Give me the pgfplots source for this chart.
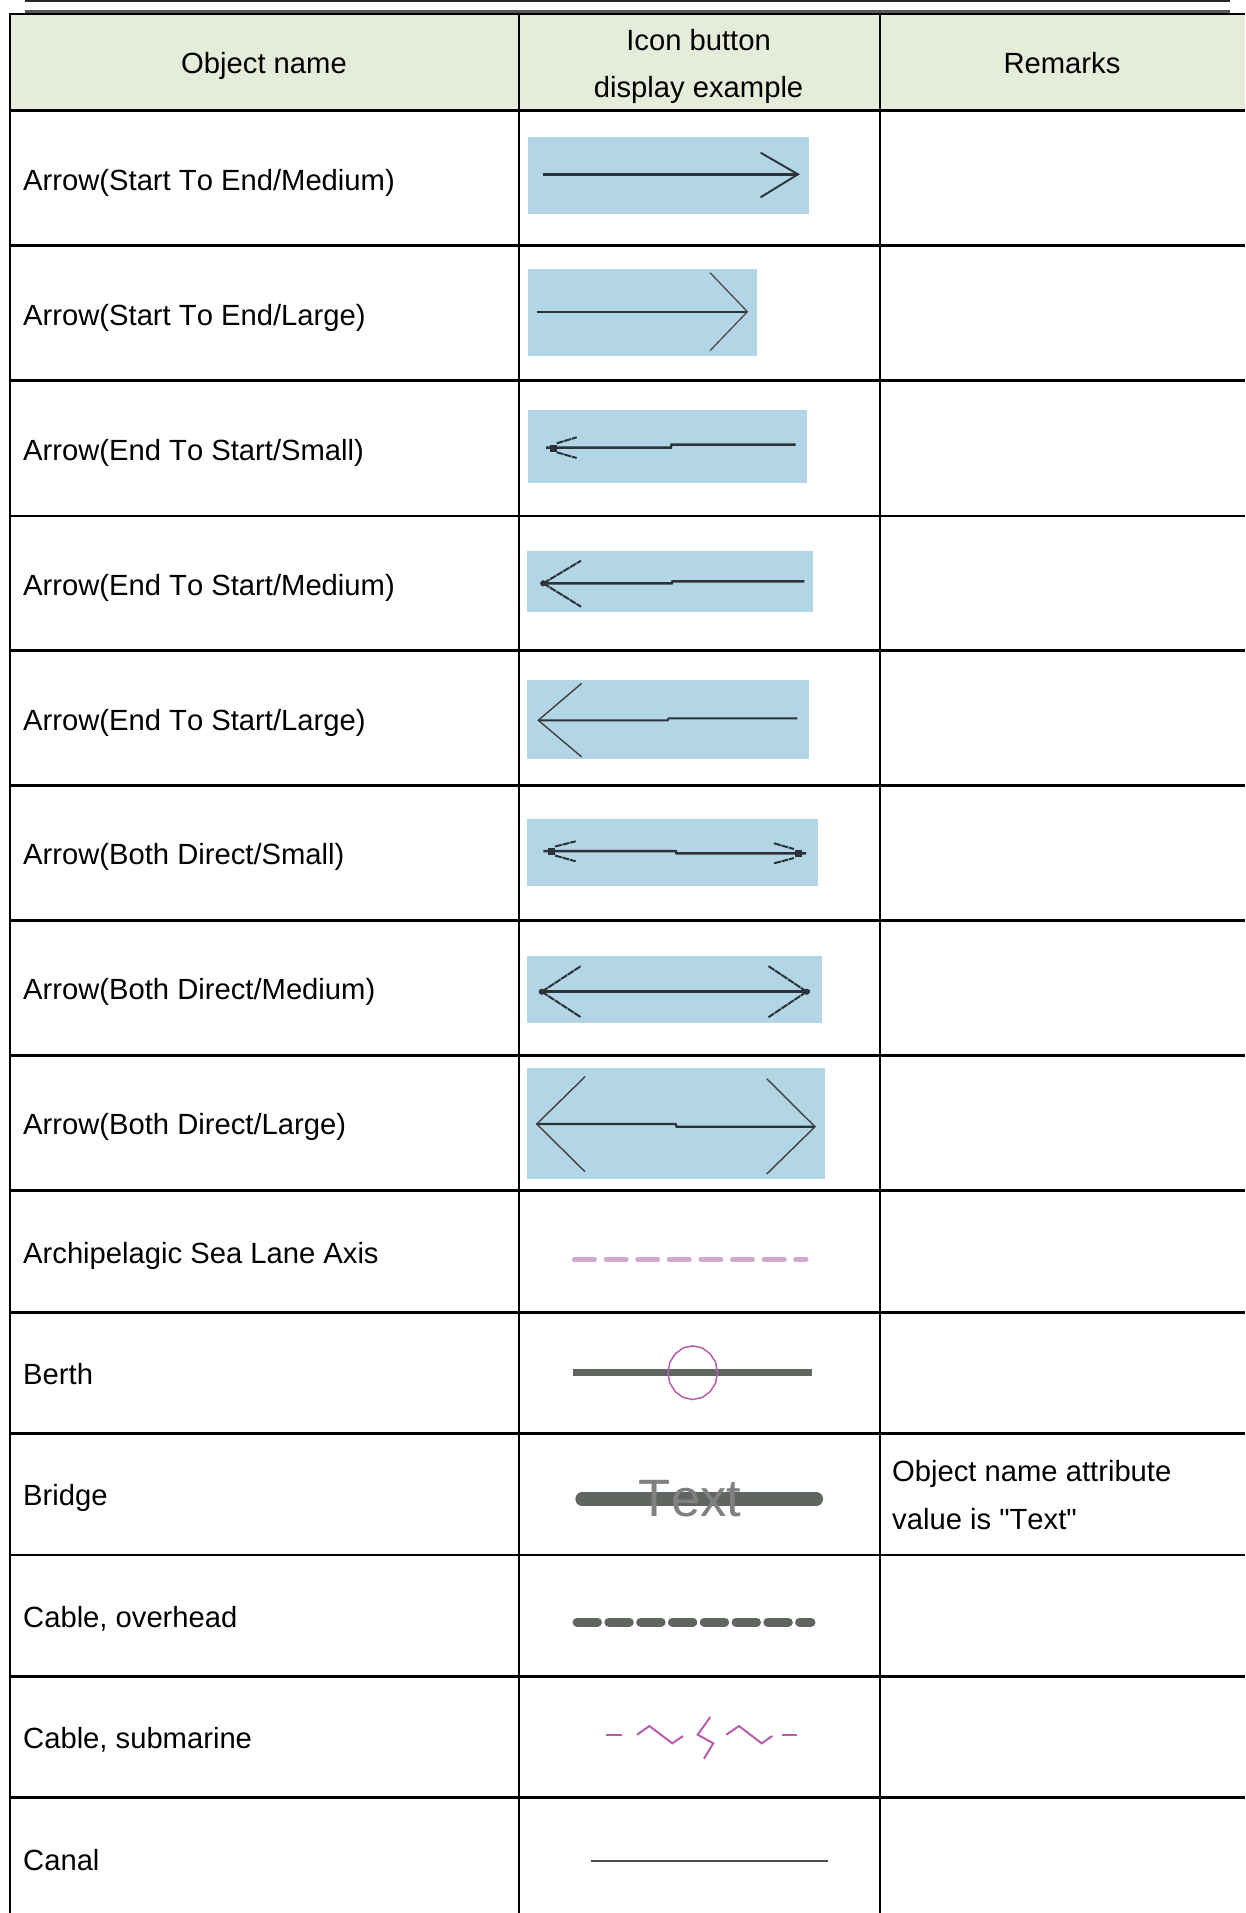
\documentclass[border=0pt]{standalone}
\usepackage{fontspec}
\setmainfont[Kerning=Off,Ligatures=TeXOff]{Liberation Sans}
\usepackage{pgfplots}
\pgfplotsset{compat=1.18}
\definecolor{hdr}{HTML}{E6ECDA}
\definecolor{sky}{HTML}{B3D6E7}
\definecolor{ink}{HTML}{2B3338}
\definecolor{slate}{HTML}{5F6660}
\definecolor{lilac}{HTML}{CFA8D0}
\definecolor{magn}{HTML}{B85CB0}
\newcommand{\Seg}[2][]{\addplot[forget plot,#1] coordinates {#2};}
\newcommand{\SkyBox}[4]{\addplot[forget plot,fill=sky,draw=none] coordinates {(#1,#2)(#3,#2)(#3,#4)(#1,#4)} --cycle;}
\newcommand{\Txt}[3]{\node[anchor=base west,inner sep=0pt,font=\fontsize{29.2}{29.2}\selectfont] at (axis cs:#1,#2) {#3};}
\newcommand{\Ctr}[3]{\node[anchor=base,inner sep=0pt,font=\fontsize{29.2}{29.2}\selectfont] at (axis cs:#1,#2) {#3};}
\tikzset{
 tbl/.style={black,line width=2.6pt},
 arw/.style={ink,line width=2.5pt},
 arwl/.style={ink,line width=1.9pt},
 barb/.style={ink,line width=2pt,dash pattern=on 7pt off 0.8pt},
 sq/.style={ink,only marks,mark=square*,mark size=3pt,mark options={ink}},
 sqs/.style={ink,only marks,mark=*,mark size=2.8pt,mark options={ink}},
}
\begin{document}
\begin{tikzpicture}[x=1pt,y=1pt]
\useasboundingbox (0,0) rectangle (1245,1913);
\begin{axis}[at={(0pt,0pt)},anchor=south west,scale only axis,width=1245pt,height=1913pt,
  xmin=0,xmax=1245,ymin=0,ymax=1913,y dir=reverse,hide axis,clip=true]
% header fill
\addplot[forget plot,fill=hdr,draw=none] coordinates {(10,14)(1245,14)(1245,110.7)(10,110.7)} --cycle;
% page rules
\Seg[black!85,line width=1.8pt]{(25,1)(1230,1)}
\Seg[black!65,line width=2.8pt]{(25,11.7)(1230,11.7)}
% table rules
\Seg[tbl]{(10,14)(1245,14)}
\Seg[tbl]{(10,110.7)(1245,110.7)}
\Seg[tbl]{(10,245.7)(1245,245.7)}
\Seg[tbl]{(10,380.5)(1245,380.5)}
\Seg[tbl]{(10,516)(1245,516)}
\Seg[tbl]{(10,650.7)(1245,650.7)}
\Seg[tbl]{(10,785.7)(1245,785.7)}
\Seg[tbl]{(10,920.7)(1245,920.7)}
\Seg[tbl]{(10,1055.7)(1245,1055.7)}
\Seg[tbl]{(10,1190.7)(1245,1190.7)}
\Seg[tbl]{(10,1312.7)(1245,1312.7)}
\Seg[tbl]{(10,1433.3)(1245,1433.3)}
\Seg[tbl]{(10,1555)(1245,1555)}
\Seg[tbl]{(10,1676.7)(1245,1676.7)}
\Seg[tbl]{(10,1797.7)(1245,1797.7)}
\Seg[tbl]{(10,13)(10,1913)}
\Seg[tbl]{(519,13)(519,1913)}
\Seg[tbl]{(880,13)(880,1913)}
% row 1
\SkyBox{528}{137.3}{809.4}{214.3}
\Seg[arw]{(543,174.3)(798,174.3)}
\Seg[arwl]{(760.6,152.7)(798,174.3)(760.6,197.3)}
% row 2
\SkyBox{528}{269}{756.6}{355.7}
\Seg[arwl,line width=1.7pt]{(536.7,311.7)(747.4,311.7)}
\Seg[black!70,line width=1.3pt]{(710,272.7)(747.4,311.7)(710,350.7)}
% row 3
\SkyBox{528}{410}{806.7}{482.7}
\Seg[arw]{(546,447.7)(670.7,447.7)(671.5,444.7)(795.7,444.7)}
\Seg[sq]{(553,447.7)}
\Seg[barb]{(556.7,443.3)(576.7,437.3)}
\Seg[barb]{(556.7,452.3)(576.7,458)}
% row 4
\SkyBox{527}{551}{813}{611.7}
\Seg[arw]{(540.7,583.3)(671.7,583.3)(672.5,581.3)(804.3,581.3)}
\Seg[sqs]{(543.3,583.3)}
\Seg[barb]{(543.3,583.3)(581,560.7)}
\Seg[barb]{(543.3,583.3)(581,606.7)}
% row 5
\SkyBox{527}{680}{809}{759}
\Seg[arwl]{(538.3,720.3)(667.7,720.3)(668.5,718.3)(797.3,718.3)}
\Seg[black!75,line width=1.4pt]{(581.7,683.3)(538.3,720.3)(581.7,757)}
% row 6
\SkyBox{527}{819}{818}{886}
\Seg[arw]{(543.3,851)(675.7,851)(676.5,853.3)(806,853.3)}
\Seg[sq]{(550.7,851)}
\Seg[sq]{(798.3,853.3)}
\Seg[barb]{(555,846.5)(575.7,841.3)}
\Seg[barb]{(555,855.5)(575.7,861.3)}
\Seg[barb]{(774,843.3)(794,849)}
\Seg[barb]{(774,863.3)(794,858)}
% row 7
\SkyBox{527}{956}{822}{1022.7}
\Seg[arw,line width=2.8pt]{(541.7,991.7)(810,991.7)}
\Seg[sqs]{(541.7,991.7)}
\Seg[sqs]{(806.7,991.7)}
\Seg[barb]{(541.7,991.7)(581,966)}
\Seg[barb]{(541.7,991.7)(581,1017.3)}
\Seg[barb]{(806.7,991.7)(768.3,966)}
\Seg[barb]{(806.7,991.7)(768.3,1017.3)}
% row 8
\SkyBox{527}{1068}{825}{1178.7}
\Seg[arw,line width=2.2pt]{(536.7,1124)(675.7,1124)(676.5,1126.7)(815,1126.7)}
\Seg[black!75,line width=1.4pt]{(585,1076.7)(536.7,1124)(585,1171.7)}
\Seg[black!75,line width=1.4pt]{(766.7,1078.7)(815,1126.7)(766.7,1174)}
% row 9
\Seg[lilac,line width=5pt,line cap=round,dash pattern=on 20pt off 11.6pt]{(574.5,1259.3)(806,1259.3)}
% row 10
\Seg[slate,line width=6.5pt]{(572.7,1372.7)(812.3,1372.7)}
\addplot[forget plot,draw=magn,line width=1.5pt] coordinates {(717.5,1372.7)(715.6,1362.4)(710.2,1353.8)(702.2,1347.9)(692.7,1345.9)(683.2,1347.9)(675.2,1353.8)(669.8,1362.4)(667.9,1372.7)(669.8,1383)(675.2,1391.6)(683.2,1397.5)(692.7,1399.5)(702.2,1397.5)(710.2,1391.6)(715.6,1383)} --cycle;
% row 11
\Seg[slate,line width=13.3pt,line cap=round]{(582,1499)(816.4,1499)}
\node[anchor=base,inner sep=0pt,text=black!50,font=\fontsize{52.6}{52.6}\selectfont] at (axis cs:690,1516) {Text};
% row 12
\Seg[slate,line width=9pt,line cap=round,dash pattern=on 20.5pt off 11.3pt]{(577,1622)(811,1622)}
% row 13
\Seg[magn,line width=2pt]{(606.3,1734.7)(621.7,1734.7)}
\Seg[magn,line width=2pt]{(637,1734.7)(649.3,1726)(672.3,1743.3)(683,1736)}
\Seg[magn,line width=2pt]{(710.3,1717)(697.7,1734.7)(713.3,1743.3)(704,1758.7)}
\Seg[magn,line width=2pt]{(726.3,1734.7)(739,1726)(761.7,1743.3)(772.3,1736)}
\Seg[magn,line width=2pt]{(782,1734.7)(797.3,1734.7)}
% row 14
\Seg[black!70,line width=2.3pt]{(591.3,1861)(827.7,1861)}
% text
\Ctr{264}{74}{Object name}
\Ctr{698.6}{50.3}{Icon button}
\Ctr{698.6}{98}{display example}
\Ctr{1062}{74}{Remarks}
\Txt{23}{190.5}{Arrow(Start To End/Medium)}
\Txt{23}{325.3}{Arrow(Start To End/Large)}
\Txt{23}{460.3}{Arrow(End To Start/Small)}
\Txt{23}{595.3}{Arrow(End To Start/Medium)}
\Txt{23}{730.3}{Arrow(End To Start/Large)}
\Txt{23}{864.8}{Arrow(Both Direct/Small)}
\Txt{23}{999.8}{Arrow(Both Direct/Medium)}
\Txt{23}{1134.8}{Arrow(Both Direct/Large)}
\Txt{23}{1263.5}{Archipelagic Sea Lane Axis}
\Txt{23}{1384.5}{Berth}
\Txt{23}{1505.5}{Bridge}
\Txt{23}{1627}{Cable, overhead}
\Txt{23}{1748}{Cable, submarine}
\Txt{23}{1870}{Canal}
\Txt{892}{1481}{Object name attribute}
\Txt{892}{1529}{value is "Text"}
\end{axis}
\end{tikzpicture}
\end{document}
